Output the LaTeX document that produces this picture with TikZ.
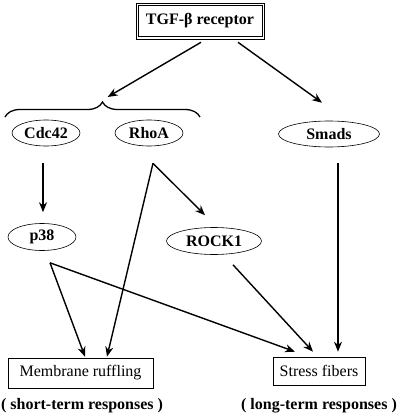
\documentclass[tikz,border=0pt]{standalone}
\usepackage{fontspec}
\setmainfont{Liberation Serif}
\usetikzlibrary{arrows.meta,shapes.geometric,decorations.pathreplacing,calc}
\begin{document}
\begin{tikzpicture}[x=1pt,y=-1pt,
  every node/.style={font=\fontsize{16}{19}\selectfont},
  lbl/.style={font=\fontsize{16}{19}\selectfont\bfseries},
  oval/.style={draw,ellipse,line width=0.6pt,inner sep=0pt,font=\fontsize{16}{19}\selectfont\bfseries},
  outbox/.style={draw,rectangle,line width=0.6pt,inner sep=0pt},
  arr/.style={line width=1.4pt,-{Stealth[length=10pt,width=8pt]}}]
\useasboundingbox (0,0) rectangle (400,417);
\node[outbox,minimum width=128pt,minimum height=36pt,font=\fontsize{16}{19}\selectfont\bfseries] (tgf) at (200,21) {TGF-β receptor};
\draw[line width=0.6pt] ($(tgf.north west)+(2.5,2.5)$) rectangle ($(tgf.south east)+(-2.5,-2.5)$);
\node[oval,minimum width=68pt,minimum height=26pt] (cdc) at (46,133) {Cdc42};
\node[oval,minimum width=68pt,minimum height=26pt] (rhoa) at (149,133) {RhoA};
\node[oval,minimum width=101pt,minimum height=26pt] (smads) at (329,134) {Smads};
\node[oval,minimum width=68pt,minimum height=27pt] (p38) at (42,237) {p38};
\node[oval,minimum width=95pt,minimum height=27pt] (rock) at (214,241) {ROCK1};
\node[outbox,minimum width=145pt,minimum height=30pt] (mem) at (80.5,373) {Membrane ruffling};
\node[outbox,minimum width=92pt,minimum height=28pt] (stress) at (319,371) {Stress fibers};
\node[lbl] (short) at (82,406) {( short-term responses )};
\node[lbl] (long) at (319,406) {( long-term responses )};
\coordinate (bl) at (5,117);
\coordinate (br) at (200,117);
\coordinate (brtip) at (102.5,100);
\draw[line width=1.3pt,decorate,decoration={brace,amplitude=15pt}] (bl) -- (br);
\draw[arr,shorten >=6pt] ($(tgf.south)+(1,3)$) -- (brtip);
\draw[arr] ($(tgf.south)+(38,3)$) -- ($(smads.north)+(-7,-18)$);
\draw[arr] ($(cdc.south)+(-3,17)$) -- ($(p38.north)+(1,-11)$);
\draw[arr] ($(rhoa.south)+(4,17)$) -- ($(rock.north)+(-9,-12)$);
\draw[arr] ($(rhoa.south)+(4,17)$) -- ($(mem.north)+(26.5,-1)$);
\draw[arr] ($(p38.south)+(8,12)$) -- ($(mem.north)+(4.5,-1)$);
\draw[arr] ($(p38.south)+(8,12)$) -- ($(stress.north)+(-24,-5)$);
\draw[arr] ($(rock.south)+(19,10)$) -- ($(stress.north)+(-6,-5)$);
\draw[arr] ($(smads.south)+(9,16)$) -- ($(stress.north)+(19,-5)$);
\end{tikzpicture}
\end{document}
